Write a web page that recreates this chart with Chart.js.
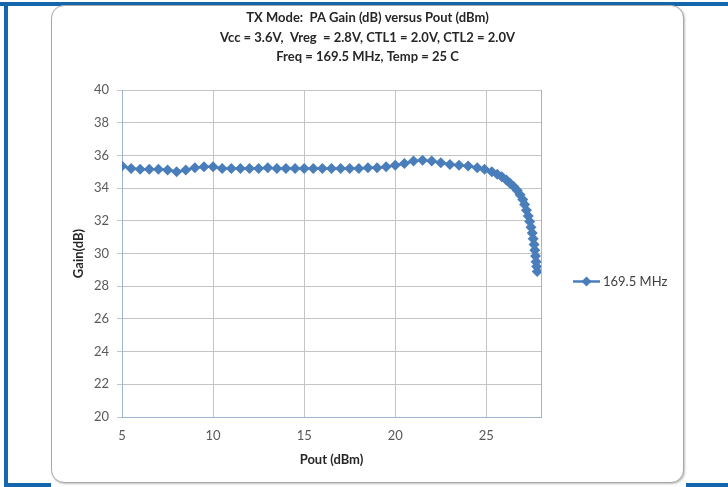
<!DOCTYPE html>
<html lang="en">
<head>
  <meta charset="UTF-8" />
  <title>PA Gain vs Pout</title>
  <script src="https://cdn.jsdelivr.net/npm/chart.js"></script>
  <style>
    body { margin: 0; background: #fff; width: 728px; height: 487px; overflow: hidden; position: relative; font-family: Lato, sans-serif; }
    .bar { position: absolute; background: #1467ac; }
    #frame { position: absolute; left: 51px; top: 5px; width: 631px; height: 476px; border: 1.5px solid #a8a8a8; border-radius: 13px; box-shadow: 1px 1px 2px rgba(0,0,0,0.25); background: #fff; }
    #wrap { position: absolute; left: 52px; top: 5px; width: 631px; height: 477px; }
  </style>
</head>
<body>

<div class="bar" style="left:0; top:2px; width:728px; height:4px;"></div>
<div class="bar" style="left:4px; top:2px; width:4px; height:485px;"></div>
<div class="bar" style="left:4px; top:483px; width:47px; height:4px;"></div>
<div class="bar" style="left:686px; top:483px; width:42px; height:4px;"></div>
<div id="frame"></div>
<div id="wrap"><canvas id="gainChart" width="631" height="477"></canvas></div>

<script>
  // series
  const pout = [5, 5.5, 6, 6.5, 7, 7.5, 8, 8.5, 9, 9.5, 10, 10.5, 11, 11.5, 12, 12.5, 13, 13.5, 14, 14.5,
    15, 15.5, 16, 16.5, 17, 17.5, 18, 18.5, 19, 19.5, 20, 20.5, 21, 21.5, 22, 22.5, 23, 23.5, 24, 24.5,
    24.9, 25.3, 25.6, 25.85, 26.1, 26.3, 26.5, 26.7, 26.85, 27.0, 27.1, 27.2, 27.3, 27.38, 27.45, 27.52,
    27.57, 27.62, 27.66, 27.7, 27.73, 27.76, 27.79];
  const gain = [35.35, 35.2, 35.15, 35.15, 35.15, 35.1, 35.0, 35.1, 35.25, 35.3, 35.3, 35.2, 35.2, 35.2, 35.2, 35.2, 35.25, 35.2, 35.2, 35.2,
    35.2, 35.2, 35.2, 35.2, 35.2, 35.2, 35.2, 35.25, 35.25, 35.3, 35.4, 35.5, 35.65, 35.7, 35.65, 35.55, 35.45, 35.4, 35.35, 35.25,
    35.15, 35.0, 34.85, 34.7, 34.5, 34.3, 34.1, 33.85, 33.6, 33.3, 33.0, 32.65, 32.3, 31.95, 31.6, 31.25,
    30.9, 30.55, 30.2, 29.85, 29.5, 29.2, 28.9];
  const seriesName = "169.5 MHz";
  const xTicks = [5, 10, 15, 20, 25];
  const titleLines = [
    "TX Mode:  PA Gain (dB) versus Pout (dBm)",
    "Vcc = 3.6V,  Vreg  = 2.8V, CTL1 = 2.0V, CTL2 = 2.0V",
    "Freq = 169.5 MHz, Temp = 25 C"
  ];

  const blue = "#4a7ebb";
  const axisCol = "#9fb3cf";
  const gridCol = "#c4c4c4";
  const font = "Lato, 'Open Sans', sans-serif";

  // title centred on the whole frame, right border of plot, legend with line + diamond
  const extras = {
    id: "extras",
    afterDraw(chart) {
      const c = chart.ctx, a = chart.chartArea;
      c.save();
      c.fillStyle = "#262626";
      c.font = "bold 13px " + font;
      c.textAlign = "center";
      c.textBaseline = "middle";
      titleLines.forEach((t, i) => c.fillText(t, chart.width / 2, 13 + i * 19.5));

      c.strokeStyle = axisCol;
      c.lineWidth = 1;
      c.beginPath();
      c.moveTo(Math.round(a.right) + 0.5, a.top);
      c.lineTo(Math.round(a.right) + 0.5, a.bottom);
      c.stroke();

      const lx = a.right + 32, ly = (a.top + a.bottom) / 2 + 28;
      c.strokeStyle = blue;
      c.lineWidth = 2.5;
      c.beginPath();
      c.moveTo(lx, ly);
      c.lineTo(lx + 27, ly);
      c.stroke();
      c.fillStyle = blue;
      c.beginPath();
      c.moveTo(lx + 13.5, ly - 5);
      c.lineTo(lx + 18.5, ly);
      c.lineTo(lx + 13.5, ly + 5);
      c.lineTo(lx + 8.5, ly);
      c.closePath();
      c.fill();
      c.fillStyle = "#404040";
      c.font = "13px " + font;
      c.textAlign = "left";
      c.fillText(seriesName, lx + 30, ly);
      c.restore();
    }
  };

  new Chart(document.getElementById("gainChart"), {
    type: "line",
    data: {
      datasets: [{
        label: seriesName,
        data: pout.map((x, i) => ({ x: x, y: gain[i] })),
        borderColor: blue,
        backgroundColor: blue,
        borderWidth: 2.5,
        pointStyle: "rectRot",
        pointRadius: 5.5,
        pointBorderWidth: 0,
        tension: 0
      }]
    },
    options: {
      responsive: false,
      animation: false,
      layout: { padding: { left: 0, right: 142, top: 85, bottom: 10 } },
      plugins: {
        legend: { display: false },
        tooltip: { enabled: false },
        title: { display: false }
      },
      scales: {
        x: {
          type: "linear",
          min: 5,
          max: 28,
          afterBuildTicks: s => { s.ticks = xTicks.map(v => ({ value: v })); },
          afterFit: s => { s.height = 55; },
          grid: { color: gridCol, drawTicks: false },
          border: { color: axisCol, width: 1 },
          ticks: { color: "#595959", font: { family: font, size: 13 }, padding: 11 },
          title: { display: true, text: "Pout (dBm)", color: "#262626", font: { family: font, size: 13, weight: "bold" }, padding: { top: 0, bottom: 4 } }
        },
        y: {
          min: 20,
          max: 40,
          afterFit: s => { s.width = 70; },
          grid: { color: gridCol, tickLength: 5 },
          border: { color: axisCol, width: 1 },
          ticks: { stepSize: 2, color: "#595959", font: { family: font, size: 13 }, padding: 8 },
          title: { display: true, text: "Gain(dB)", color: "#262626", font: { family: font, size: 13, weight: "bold" }, padding: { top: 19, bottom: 0 } }
        }
      }
    },
    plugins: [extras]
  });
</script>

</body>
</html>
